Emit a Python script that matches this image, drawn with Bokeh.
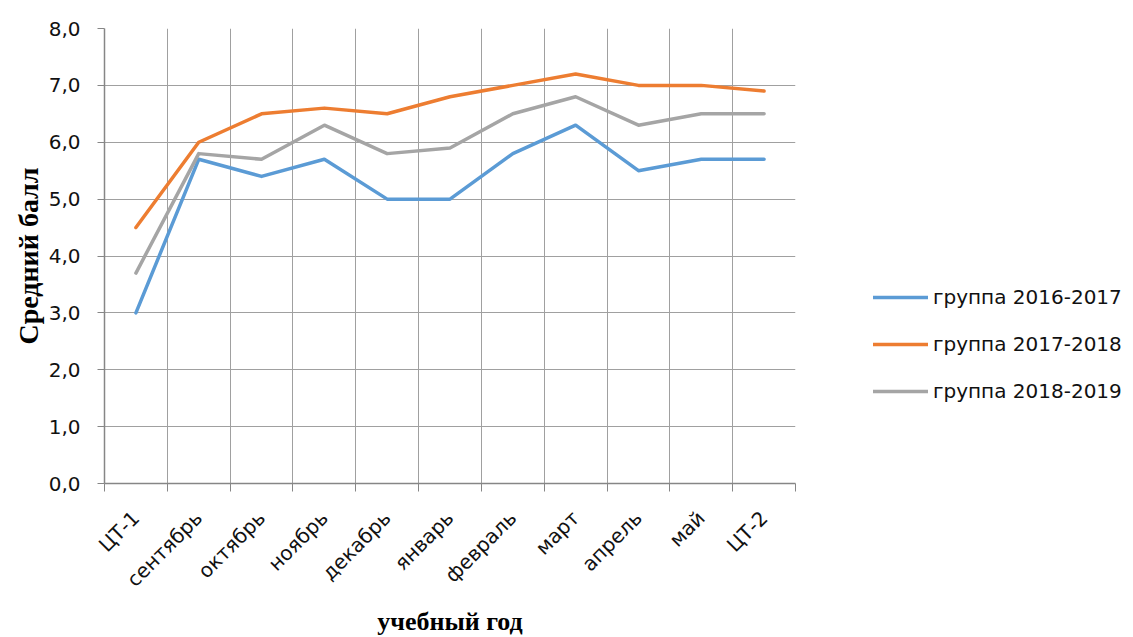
from bokeh.plotting import figure
from bokeh.models import Range1d, FixedTicker, Legend, LegendItem
from bokeh.embed import file_html
from bokeh.resources import INLINE

categories = ["ЦТ-1", "сентябрь", "октябрь", "ноябрь", "декабрь", "январь",
              "февраль", "март", "апрель", "май", "ЦТ-2"]
g2016 = [3.0, 5.7, 5.4, 5.7, 5.0, 5.0, 5.8, 6.3, 5.5, 5.7, 5.7]
g2017 = [4.5, 6.0, 6.5, 6.6, 6.5, 6.8, 7.0, 7.2, 7.0, 7.0, 6.9]
g2018 = [3.7, 5.8, 5.7, 6.3, 5.8, 5.9, 6.5, 6.8, 6.3, 6.5, 6.5]
series_names = ["группа 2016-2017", "группа 2017-2018", "группа 2018-2019"]
series_colors = ["#5B9BD5", "#ED7D31", "#A5A5A5"]
y_ticks = [0, 1, 2, 3, 4, 5, 6, 7, 8]
y_tick_labels = ["0,0", "1,0", "2,0", "3,0", "4,0", "5,0", "6,0", "7,0", "8,0"]
x_title = "учебный год"
y_title = "Средний балл"

n = len(categories)
xc = [i + 0.5 for i in range(n)]
bounds = list(range(n + 1))

p = figure(frame_width=691, frame_height=455, output_backend="svg", toolbar_location=None,
           x_range=Range1d(0, n), y_range=Range1d(0, 8),
           min_border_left=104, min_border_right=0, min_border_top=28, min_border_bottom=150)
p.outline_line_color = None
p.background_fill_color = "white"
p.border_fill_color = "white"

grid_col = "#A0A0A0"
axis_col = "#868686"
tick_font = "DejaVu Sans"

p.xgrid.ticker = FixedTicker(ticks=bounds)
p.ygrid.ticker = FixedTicker(ticks=y_ticks)
for g in (p.xgrid, p.ygrid):
    g.grid_line_color = grid_col
    g.grid_line_width = 1

ya = p.yaxis[0]
ya.ticker = FixedTicker(ticks=y_ticks)
ya.major_label_overrides = {t: l for t, l in zip(y_ticks, y_tick_labels)}
ya.axis_line_color = axis_col
ya.axis_line_width = 1.5
ya.major_tick_line_color = axis_col
ya.major_tick_out = 7
ya.major_tick_in = 0
ya.minor_tick_line_color = None
ya.major_label_standoff = 17
ya.major_label_text_font = tick_font
ya.major_label_text_font_size = "20px"
ya.major_label_text_color = "#111111"
ya.axis_label = y_title
ya.axis_label_text_font = "Liberation Serif"
ya.axis_label_text_font_style = "bold"
ya.axis_label_text_font_size = "28px"
ya.axis_label_text_color = "#000000"
ya.axis_label_standoff = 2

xa = p.xaxis[0]
xa.ticker = FixedTicker(ticks=xc, minor_ticks=bounds)
xa.major_label_overrides = {x: c for x, c in zip(xc, categories)}
xa.major_label_orientation = 0.785398
xa.axis_line_color = axis_col
xa.axis_line_width = 1.5
xa.major_tick_line_color = None
xa.major_tick_out = 0
xa.major_tick_in = 0
xa.minor_tick_line_color = axis_col
xa.minor_tick_out = 8
xa.minor_tick_in = 0
xa.major_label_standoff = 23
xa.major_label_text_font = tick_font
xa.major_label_text_font_size = "20px"
xa.major_label_text_color = "#111111"
xa.axis_label = x_title
xa.axis_label_text_font = "Liberation Serif"
xa.axis_label_text_font_style = "bold"
xa.axis_label_text_font_size = "26px"
xa.axis_label_text_color = "#000000"
xa.axis_label_standoff = 4

items = []
for name, col, ys in zip(series_names, series_colors, [g2016, g2017, g2018]):
    r = p.line(xc, ys, line_color=col, line_width=3.5, line_cap="round", line_join="round")
    items.append(LegendItem(label=name, renderers=[r]))

leg = Legend(items=items, location=(78, 80))
leg.glyph_width = 55
leg.glyph_height = 20
leg.label_height = 20
leg.spacing = 23
leg.label_standoff = 5
leg.padding = 0
leg.margin = 0
leg.border_line_color = None
leg.background_fill_alpha = 0
leg.label_text_font = tick_font
leg.label_text_font_size = "20px"
leg.label_text_color = "#111111"
p.add_layout(leg, "right")

open("out.html", "w").write(file_html(p, INLINE))
